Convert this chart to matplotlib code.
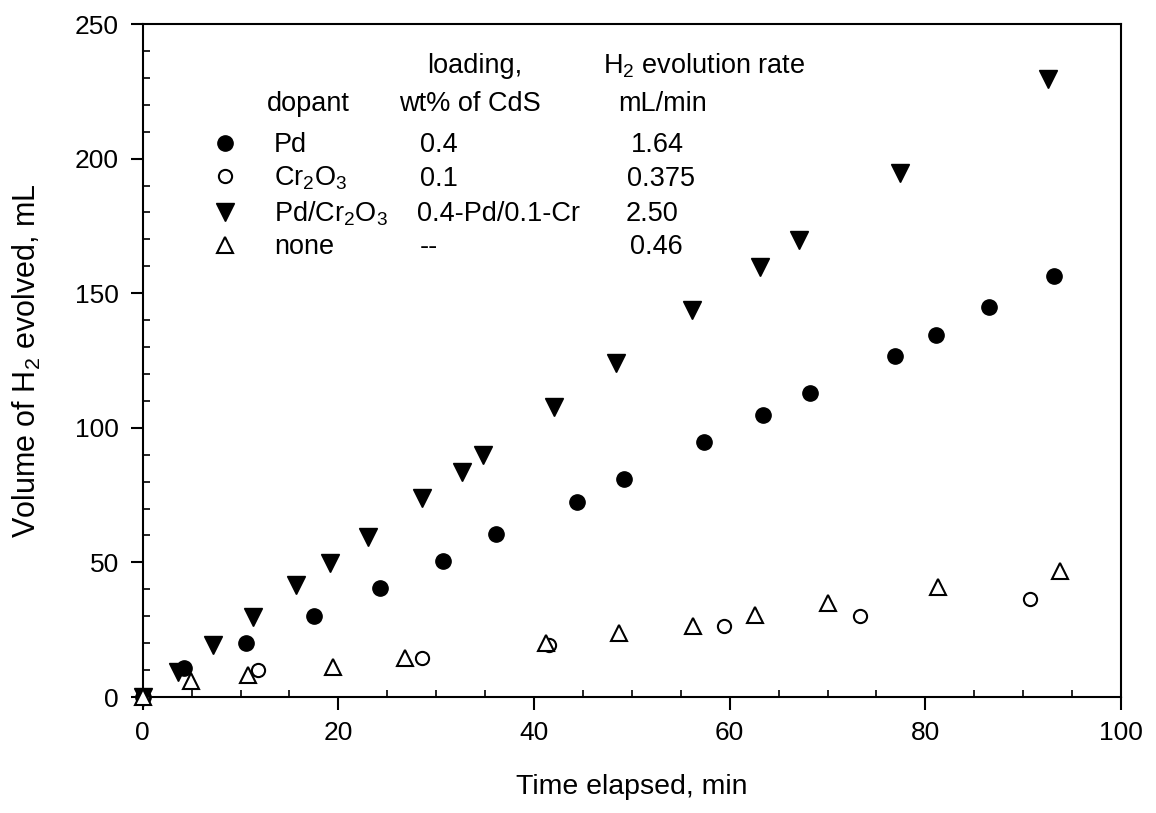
import matplotlib
matplotlib.use('Agg')
import matplotlib.pyplot as plt
from matplotlib.ticker import MultipleLocator

plt.rcParams['font.family'] = ['Liberation Sans', 'DejaVu Sans']
plt.rcParams['mathtext.fontset'] = 'custom'
plt.rcParams['mathtext.rm'] = 'Liberation Sans'
plt.rcParams['mathtext.it'] = 'Liberation Sans:italic'
plt.rcParams['mathtext.bf'] = 'Liberation Sans:bold'

# ---------------- data ----------------
pd_t = [0, 4.2, 10.6, 17.5, 24.3, 30.7, 36.1, 44.4, 49.2, 57.4, 63.4, 68.2, 76.9, 81.1, 86.5, 93.2]
pd_v = [0, 10.7, 19.9, 30.2, 40.4, 50.5, 60.5, 72.6, 80.9, 94.8, 104.8, 112.8, 126.7, 134.5, 144.8, 156.4]

cr_t = [0, 11.8, 28.6, 41.5, 59.4, 73.3, 90.7]
cr_v = [0, 10.0, 14.4, 19.3, 26.4, 30.2, 36.4]

pdcr_t = [0, 3.6, 7.2, 11.3, 15.7, 19.1, 23.0, 28.5, 32.6, 34.8, 42.0, 48.4, 56.1, 63.1, 67.1, 77.4, 92.5]
pdcr_v = [0, 9.4, 19.3, 29.6, 41.6, 49.7, 59.6, 73.8, 83.7, 89.9, 107.8, 123.9, 143.8, 159.8, 169.8, 194.5, 229.4]

none_t = [0, 4.9, 10.8, 19.5, 26.8, 41.2, 48.7, 56.2, 62.6, 70.1, 81.3, 93.8]
none_v = [0, 5.9, 8.2, 11.3, 14.4, 19.9, 23.6, 26.4, 30.5, 34.8, 40.7, 46.9]

dopants = ['Pd', 'Cr$_2$O$_3$', 'Pd/Cr$_2$O$_3$', 'none']
loadings = ['0.4', '0.1', '0.4-Pd/0.1-Cr', '--']
rates = ['1.64', '0.375', '2.50', '0.46']
header_top = ['loading,', 'H$_2$ evolution rate']
header_bottom = ['dopant', 'wt% of CdS', 'mL/min']

x_ticks = [0, 20, 40, 60, 80, 100]
y_ticks = [0, 50, 100, 150, 200, 250]

# ---------------- figure ----------------
W, H, DPI = 1156, 813, 100
fig = plt.figure(figsize=(W / DPI, H / DPI), dpi=DPI)
ax = fig.add_axes([142.7 / W, 1 - 697 / H, 978.3 / W, 673 / H])

FS = 19.5
h1, = ax.plot(pd_t, pd_v, linestyle='none', marker='o', ms=11, mfc='black', mec='black', clip_on=False, zorder=3)
h2, = ax.plot(cr_t, cr_v, linestyle='none', marker='o', ms=9.5, mfc='white', mec='black', mew=1.5, clip_on=False, zorder=3)
h3, = ax.plot(pdcr_t, pdcr_v, linestyle='none', marker='v', ms=12.5, mfc='black', mec='black', clip_on=False, zorder=3)
h4, = ax.plot(none_t, none_v, linestyle='none', marker='^', ms=11, mfc='white', mec='black', mew=1.5, clip_on=False, zorder=3)

ax.set_xlim(0, 100)
ax.set_ylim(0, 250)
ax.set_xticks(x_ticks)
ax.set_yticks(y_ticks)
ax.xaxis.set_minor_locator(MultipleLocator(5))
ax.yaxis.set_minor_locator(MultipleLocator(10))
ax.tick_params(which='major', direction='out', length=9, width=1.5, labelsize=19, pad=8,
               top=False, right=False)
ax.tick_params(which='minor', direction='in', length=5, width=1.2, top=False, right=False)
for s in ax.spines.values():
    s.set_linewidth(1.5)

ax.set_xlabel('Time elapsed, min', fontsize=20.5)
ax.set_ylabel('Volume of H$_2$ evolved, mL', fontsize=22)
ax.xaxis.set_label_coords(0.5, -0.115)
ax.yaxis.label.set_verticalalignment('center')
ax.yaxis.set_label_coords(-0.118, 0.5)

# ---------------- legend table ----------------
def fx(px):
    return px / W

def fy(py):
    return 1 - py / H

leg = ax.legend([h1, h2, h3, h4], dopants, loc='upper left', frameon=False,
                fontsize=FS, borderpad=0, borderaxespad=0, handletextpad=0.8,
                handlelength=2.0, labelspacing=0.25,
                bbox_to_anchor=(fx(198.4), fy(125)), bbox_transform=fig.transFigure)

fig.canvas.draw()

def baseline_y(t):
    return t.get_transform().transform((0, 0))[1]

# shift legend so first row baseline is at ~152 px from top
target = (H - 152)
dy = target - baseline_y(leg.get_texts()[0])
leg.set_bbox_to_anchor((fx(198.4), fy(125) + dy / H), transform=fig.transFigure)
fig.canvas.draw()

inv = fig.transFigure.inverted()
for i, t in enumerate(leg.get_texts()):
    yb = inv.transform((0, baseline_y(t)))[1]
    fig.text(fx(420 if i != 2 else 417), yb, loadings[i], fontsize=FS, va='baseline', ha='left')
    fig.text(fx([631, 627, 626, 630][i]), yb, rates[i], fontsize=FS, va='baseline', ha='left')

fig.text(fx(427), fy(73), header_top[0], fontsize=FS, va='baseline', ha='left')
fig.text(fx(603), fy(73), header_top[1], fontsize=FS, va='baseline', ha='left')
fig.text(fx(267), fy(110.7), header_bottom[0], fontsize=FS, va='baseline', ha='left')
fig.text(fx(399), fy(110.7), header_bottom[1], fontsize=FS, va='baseline', ha='left')
fig.text(fx(618), fy(110.7), header_bottom[2], fontsize=FS, va='baseline', ha='left')

fig.savefig('out.png', dpi=DPI)
